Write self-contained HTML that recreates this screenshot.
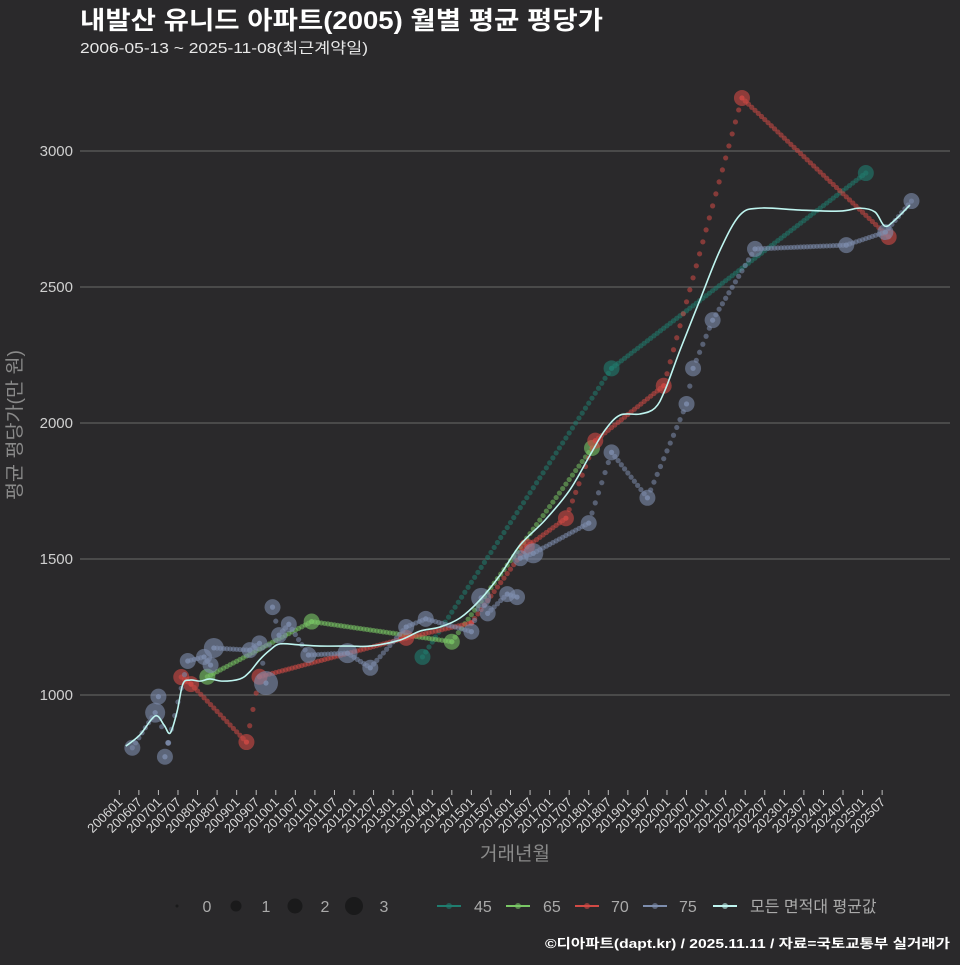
<!DOCTYPE html>
<html><head><meta charset="utf-8">
<style>
html,body{margin:0;padding:0;background:#2a292b;}
body{width:960px;height:960px;overflow:hidden;font-family:"Liberation Sans","Noto Sans CJK KR",sans-serif;}
svg text{font-family:"Liberation Sans","Noto Sans CJK KR",sans-serif;}
</style></head><body>
<svg id="chart" width="960" height="960" viewBox="0 0 960 960">
<rect width="960" height="960" fill="#2a292b"/>
<text x="80" y="29" font-size="25" font-weight="bold" fill="#ffffff" textLength="523" lengthAdjust="spacingAndGlyphs">내발산 유니드 아파트(2005) 월별 평균 평당가</text>
<text x="80" y="53" font-size="15" fill="#e8e8e8" textLength="288" lengthAdjust="spacingAndGlyphs">2006-05-13 ~ 2025-11-08(최근계약일)</text>
<g id="grid"></g>
<g id="series"></g>
<g id="axes"></g>
<text transform="translate(21,425) rotate(-90)" text-anchor="middle" font-size="19" fill="#8a8a8a" textLength="150" lengthAdjust="spacingAndGlyphs">평균 평당가(만 원)</text>
<text x="515" y="860" text-anchor="middle" font-size="19" fill="#8a8a8a">거래년월</text>
<g id="legend"></g>
<text x="950" y="948" text-anchor="end" font-size="13" font-weight="bold" fill="#ffffff" textLength="405" lengthAdjust="spacingAndGlyphs">©디아파트(dapt.kr) / 2025.11.11 / 자료=국토교통부 실거래가</text>
</svg>
<script>
// data (month index from 2006-01, value in 만원, count size)
const yTicks = [1000, 1500, 2000, 2500, 3000];
const xTickLabels = ["200601","200607","200701","200707","200801","200807","200901","200907","201001","201007","201101","201107","201201","201207","201301","201307","201401","201407","201501","201507","201601","201607","201701","201707","201801","201807","201901","201907","202001","202007","202101","202107","202201","202207","202301","202307","202401","202407","202501","202507"];
const s45M = [93, 151, 229];
const s45V = [1140, 2201, 2919];
const s45S = [1, 1, 1];
const s65M = [27, 59, 102, 145];
const s65V = [1067, 1270, 1196, 1908];
const s65S = [1, 1, 1, 1];
const s70M = [19, 22, 39, 43, 88, 108, 125, 137, 146, 167, 191, 236];
const s70V = [1066, 1040, 827, 1067, 1210, 1265, 1545, 1650, 1935, 2137, 3195, 2684];
const s70S = [1, 1, 1, 1, 1, 0, 1, 1, 1, 1, 1, 1];
const s75M = [4, 11, 12, 14, 15, 21, 26, 28, 29, 40, 43, 45, 47, 49, 52, 58, 70, 77, 88, 94, 108, 111, 113, 119, 122, 123, 127, 144, 151, 162, 174, 176, 182, 195, 223, 235, 243];
const s75V = [806, 935, 994, 773, 824, 1125, 1140, 1110, 1173, 1165, 1190, 1044, 1323, 1220, 1260, 1147, 1154, 1100, 1250, 1280, 1233, 1357, 1300, 1371, 1360, 1503, 1521, 1632, 1892, 1725, 2070, 2201, 2378, 2640, 2654, 2702, 2816];
const s75S = [1, 2, 1, 1, 0, 1, 1, 1, 2, 1, 1, 3, 1, 1, 1, 1, 2, 1, 1, 1, 1, 2, 1, 1, 1, 1, 2, 1, 1, 1, 1, 1, 1, 1, 1, 1, 1];
const avgM = [2, 6.3, 11, 13.7, 15.6, 17.7, 19.5, 21.7, 24.8, 27.8, 31.5, 37, 40, 43, 46.2, 49.3, 55.4, 61.6, 70.8, 76.9, 86.1, 92.2, 98.4, 104.5, 110.6, 116.8, 122.9, 130.6, 138.2, 144.4, 149, 153.6, 159.7, 164.3, 167.4, 172, 178.1, 184.3, 190.4, 196.5, 208.8, 221, 227.2, 231.8, 234.8, 237.9, 242.5];
const avgV = [812, 853, 923, 890, 860, 938, 1040, 1055, 1051, 1059, 1051, 1059, 1085, 1129, 1165, 1188, 1184, 1180, 1180, 1180, 1202, 1235, 1250, 1283, 1349, 1441, 1551, 1643, 1754, 1882, 1974, 2029, 2033, 2055, 2121, 2268, 2452, 2636, 2765, 2790, 2783, 2779, 2790, 2776, 2724, 2746, 2801];

const NS = "http://www.w3.org/2000/svg";
function xS(m){ return 119.3 + m * 3.26; }
function yS(v){ return 695 - (v - 1000) * 0.272; }
function mk(tag, attrs, parent){
  const e = document.createElementNS(NS, tag);
  for (const k in attrs) e.setAttribute(k, attrs[k]);
  parent.appendChild(e);
  return e;
}
const grid = document.getElementById('grid');
const axes = document.getElementById('axes');
const ser = document.getElementById('series');
const leg = document.getElementById('legend');

yTicks.forEach(function(t){
  const l = mk('line', {x1:80, x2:950, y1:yS(t), y2:yS(t), stroke:'#6a6a6a', 'stroke-width':1}, grid);
  
  
  const tx = mk('text', {x:73, y:yS(t)+5, 'text-anchor':'end', 'font-size':15, fill:'#cfcfcf'}, axes);
  tx.textContent = t;
  
  
});
xTickLabels.forEach(function(lab, i){
  const x = xS(i * 6);
  const tk = mk('line', {x1:x, x2:x, y1:790, y2:795, stroke:'#bbbbbb', 'stroke-width':1}, axes);
  
  
  const tx = mk('text', {x:x+4, y:803, 'text-anchor':'end', 'font-size':13, fill:'#d8d8d8', transform:'rotate(-45 '+(x+4)+' 803)'}, axes);
  tx.textContent = lab;
  
  
});

function drawSeries(name, M, V, S, color, dotOp){
  const g = mk('g', {}, ser);
  
  
  for (let i = 0; i < M.length - 1; i++){
    const m1 = M[i], m2 = M[i+1];
    for (let m = m1; m <= m2; m++){
      const v = V[i] + (V[i+1] - V[i]) * (m - m1) / Math.max(1, (m2 - m1));
      const d = mk('circle', {cx:xS(m), cy:yS(v), r:2.6, fill:color, 'fill-opacity':dotOp}, g);
      
      
    }
  }
  for (let i = 0; i < M.length; i++){
    const r = S[i] === 0 ? 3 : 6 + S[i] * 2;
    const c = mk('circle', {cx:xS(M[i]), cy:yS(V[i]), r:r, fill:color, 'fill-opacity':0.6}, g);
    
    
  }
}
drawSeries('45', s45M, s45V, s45S, '#1f7d6f', 0.55);
drawSeries('65', s65M, s65V, s65S, '#79c765', 0.55);
drawSeries('70', s70M, s70V, s70S, '#d24a45', 0.55);
drawSeries('75', s75M, s75V, s75S, '#7e8eae', 0.55);

(function(){
  const P = avgM.map(function(m, i){ return [xS(m), yS(avgV[i])]; });
  let d = 'M' + P[0][0] + ',' + P[0][1];
  for (let i = 0; i < P.length - 1; i++){
    const p0 = P[Math.max(0, i-1)], p1 = P[i], p2 = P[i+1], p3 = P[Math.min(P.length-1, i+2)];
    const c1 = [p1[0] + (p2[0]-p0[0])/6, p1[1] + (p2[1]-p0[1])/6];
    const c2 = [p2[0] - (p3[0]-p1[0])/6, p2[1] - (p3[1]-p1[1])/6];
    d += ' C' + c1[0] + ',' + c1[1] + ' ' + c2[0] + ',' + c2[1] + ' ' + p2[0] + ',' + p2[1];
  }
  const p = mk('path', {d:d, fill:'none', stroke:'#bff5f0', 'stroke-width':1.6}, ser);
  
  
})();

// legend
const sizeLeg = [[177, 0, '0'], [236, 5.5, '1'], [295, 7.5, '2'], [354, 9, '3']];
sizeLeg.forEach(function(s){
  const c = mk('circle', {cx:s[0], cy:906, r:s[1] || 1.5, fill:'#1a1a1b'}, leg);
  
  
  const t = mk('text', {x:s[0]+30, y:912, 'text-anchor':'middle', 'font-size':16, fill:'#aaaaaa'}, leg);
  t.textContent = s[2];
  
  
});
const colLeg = [[449, 474, '#1f7d6f', '45'], [518, 543, '#79c765', '65'], [587, 611, '#d24a45', '70'], [655, 679, '#7e8eae', '75'], [725, 750, '#bff5f0', '모든 면적대 평균값']];
colLeg.forEach(function(s){
  const l = mk('line', {x1:s[0]-12, x2:s[0]+12, y1:906, y2:906, stroke:s[2], 'stroke-width':2}, leg);
  
  
  const c = mk('circle', {cx:s[0], cy:906, r:3, fill:s[2], 'fill-opacity':0.6}, leg);
  
  
  const t = mk('text', {x:s[1], y:912, 'font-size':16, fill:'#aaaaaa'}, leg);
  t.textContent = s[3];
  
  
});
</script>
</body></html>
